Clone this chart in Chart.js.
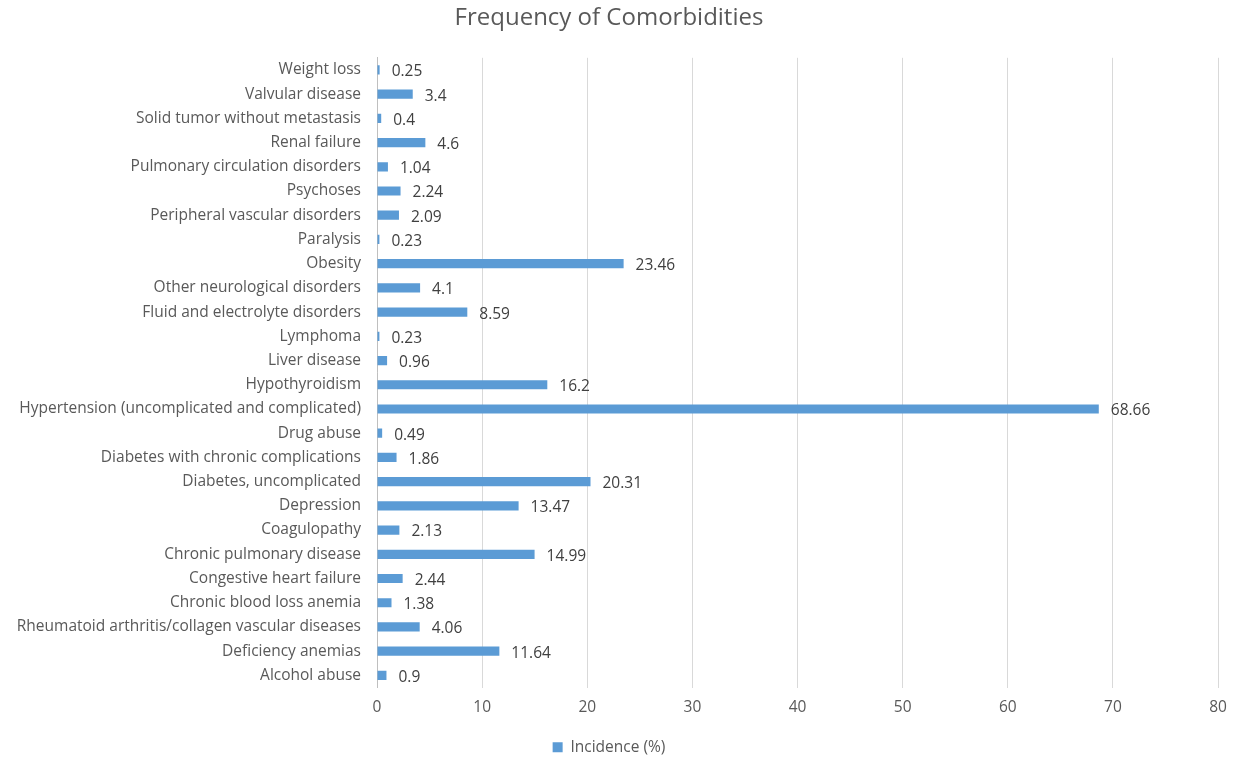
<!DOCTYPE html>
<html>
<head>
<meta charset="utf-8">
<script src="https://cdn.jsdelivr.net/npm/chart.js@4"></script>
<style>
  html, body { margin: 0; padding: 0; background: #fff; }
  #wrap { width: 1241px; height: 758px; }
</style>
</head>
<body>
<div id="wrap"><canvas id="comorbChart"></canvas></div>
<script>
// Categories, top to bottom as shown
const categories = [
    'Weight loss',
    'Valvular disease',
    'Solid tumor without metastasis',
    'Renal failure',
    'Pulmonary circulation disorders',
    'Psychoses',
    'Peripheral vascular disorders',
    'Paralysis',
    'Obesity',
    'Other neurological disorders',
    'Fluid and electrolyte disorders',
    'Lymphoma',
    'Liver disease',
    'Hypothyroidism',
    'Hypertension (uncomplicated and complicated)',
    'Drug abuse',
    'Diabetes with chronic complications',
    'Diabetes, uncomplicated',
    'Depression',
    'Coagulopathy',
    'Chronic pulmonary disease',
    'Congestive heart failure',
    'Chronic blood loss anemia',
    'Rheumatoid arthritis/collagen vascular diseases',
    'Deficiency anemias',
    'Alcohol abuse'
];

const incidence = [
    0.25, 3.4, 0.4, 4.6, 1.04, 2.24, 2.09, 0.23, 23.46, 4.1,
    8.59, 0.23, 0.96, 16.2, 68.66, 0.49, 1.86, 20.31, 13.47, 2.13,
    14.99, 2.44, 1.38, 4.06, 11.64, 0.9
];

const xTicks = [0, 10, 20, 30, 40, 50, 60, 70, 80];

const FONT = '"Open Sans", "Liberation Sans", sans-serif';
const TEXT = '#595959';

// Value labels at the end of each bar
const barValueLabels = {
    id: 'barValueLabels',
    afterDatasetsDraw(chart) {
        const ctx = chart.ctx;
        const meta = chart.getDatasetMeta(0);
        ctx.save();
        ctx.font = '15.5px ' + FONT;
        ctx.fillStyle = '#404040';
        ctx.textAlign = 'left';
        ctx.textBaseline = 'middle';
        meta.data.forEach((bar, i) => {
            ctx.fillText(String(incidence[i]), bar.x + 12, bar.y + 2);
        });
        ctx.restore();
    }
};

new Chart(document.getElementById('comorbChart'), {
    type: 'bar',
    data: {
        labels: categories,
        datasets: [{
            label: 'Incidence (%)',
            data: incidence,
            backgroundColor: '#5B9BD5',
            borderWidth: 0,
            barPercentage: 0.38,
            categoryPercentage: 1.0
        }]
    },
    options: {
        indexAxis: 'y',
        responsive: true,
        maintainAspectRatio: false,
        animation: false,
        layout: { padding: { left: 0, right: 23, top: 0, bottom: -7 } },
        plugins: {
            title: {
                display: true,
                text: 'Frequency of Comorbidities',
                color: TEXT,
                font: { family: FONT, size: 24, weight: 'normal' },
                padding: { top: 4, bottom: 25 }
            },
            legend: {
                position: 'bottom',
                labels: {
                    color: TEXT,
                    font: { family: FONT, size: 15.5 },
                    boxWidth: 10,
                    boxHeight: 10,
                    padding: 0
                }
            },
            tooltip: { enabled: false }
        },
        scales: {
            x: {
                min: 0,
                max: 80,
                afterBuildTicks(axis) {
                    axis.ticks = xTicks.map(v => ({ value: v }));
                },
                grid: {
                    color: '#d9d9d9',
                    lineWidth: 1,
                    drawTicks: false
                },
                border: { display: false },
                ticks: {
                    color: TEXT,
                    font: { family: FONT, size: 15.5 },
                    padding: 11
                },
                afterFit(axis) { axis.height = 52; }
            },
            y: {
                afterFit(axis) { axis.width = 377; },
                grid: { display: false, drawTicks: false },
                border: { display: true, color: '#bfbfbf', width: 1 },
                ticks: {
                    color: TEXT,
                    font: { family: FONT, size: 15.5 },
                    padding: 16,
                    autoSkip: false
                }
            }
        }
    },
    plugins: [barValueLabels]
});
</script>
</body>
</html>
